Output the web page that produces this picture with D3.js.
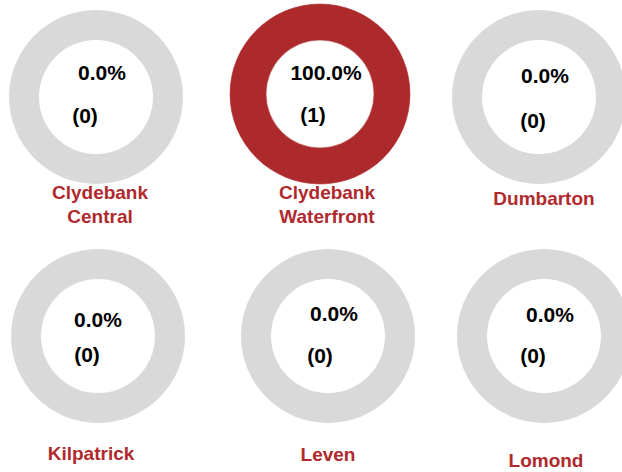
<!DOCTYPE html>
<html>
<head>
<meta charset="utf-8">
<script src="https://cdn.jsdelivr.net/npm/d3@7"></script>
<style>
  body { margin: 0; background: #fff; }
  text { font-family: "Liberation Sans", Arial, sans-serif; font-weight: bold; }
</style>
</head>
<body>
<div class="chart"></div>
<script>
// data
const wards = ['Clydebank Central', 'Clydebank Waterfront', 'Dumbarton', 'Kilpatrick', 'Leven', 'Lomond'];
const counts = [0, 1, 0, 0, 0, 0];
const total = d3.sum(counts);

// layout of each donut cell (centre, radii, text positions)
const cells = [
  {cx: 96,  cy: 97,  ro: 87, ri: 57, px: 102, py: 80,  nx: 85,  ny: 123, lx: 100, ly: 199},
  {cx: 320, cy: 94,  ro: 90, ri: 54, px: 326, py: 80,  nx: 313, ny: 122, lx: 327, ly: 199},
  {cx: 539, cy: 97,  ro: 87, ri: 57, px: 545, py: 83,  nx: 533, ny: 128, lx: 544, ly: 205},
  {cx: 98,  cy: 336, ro: 87, ri: 57, px: 98,  py: 327, nx: 87,  ny: 362, lx: 91,  ly: 460},
  {cx: 328, cy: 336, ro: 87, ri: 57, px: 334, py: 321, nx: 320, ny: 363, lx: 328, ly: 461},
  {cx: 544, cy: 336, ro: 87, ri: 57, px: 550, py: 322, nx: 533, ny: 363, lx: 546, ly: 467}
];
const red = '#AD2A2C', grey = '#D9D9D9';

const svg = d3.select('.chart').append('svg')
  .attr('width', 622)
  .attr('height', 472);

const pie = d3.pie().sort(null).value(d => d);
const fmt = d3.format('.1%');

wards.forEach((ward, i) => {
  const c = cells[i];
  const share = counts[i] / total;
  const arc = d3.arc().innerRadius(c.ri).outerRadius(c.ro);
  const g = svg.append('g').attr('transform', `translate(${c.cx},${c.cy})`);

  g.selectAll('path')
    .data(pie([share, 1 - share]))
    .enter()
    .append('path')
    .attr('d', arc)
    .attr('fill', (d, j) => j === 0 ? red : grey)
    .attr('stroke', (d, j) => j === 0 ? red : 'none')
    .attr('stroke-width', 0.6);

  // labels inside the hole
  svg.append('text')
    .attr('x', c.px).attr('y', c.py)
    .attr('text-anchor', 'middle')
    .attr('font-size', 21)
    .attr('fill', '#000')
    .text(fmt(share));
  svg.append('text')
    .attr('x', c.nx).attr('y', c.ny)
    .attr('text-anchor', 'middle')
    .attr('font-size', 21)
    .attr('fill', '#000')
    .text('(' + counts[i] + ')');

  // ward name below
  const words = ward.split(' ');
  words.forEach((w, k) => {
    svg.append('text')
      .attr('x', c.lx).attr('y', c.ly + k * 24)
      .attr('text-anchor', 'middle')
      .attr('font-size', 19)
      .attr('fill', '#B0292D')
      .text(w);
  });
});
</script>
</body>
</html>
